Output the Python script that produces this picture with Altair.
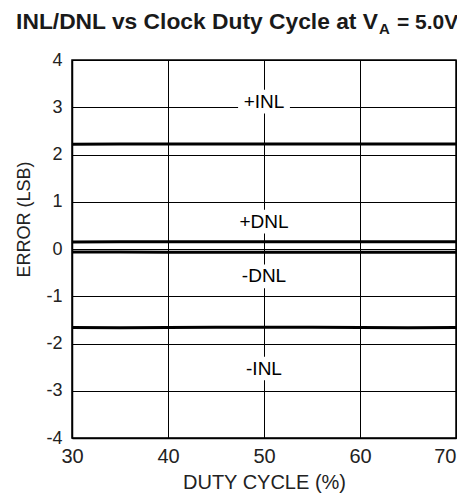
import altair as alt
import pandas as pd

# ---- data ----
duty = [30, 35, 40, 45, 50, 55, 60, 65, 70]
pos_inl = [2.215, 2.22, 2.22, 2.22, 2.22, 2.22, 2.22, 2.22, 2.22]
pos_dnl = [0.15, 0.155, 0.155, 0.155, 0.155, 0.155, 0.155, 0.155, 0.155]
neg_dnl = [-0.065, -0.065, -0.07, -0.07, -0.07, -0.07, -0.07, -0.07, -0.07]
neg_inl = [-1.66, -1.665, -1.66, -1.655, -1.655, -1.655, -1.66, -1.665, -1.66]

label_text = ["+INL", "+DNL", "-DNL", "-INL"]
label_x = [50, 50, 50, 50]
label_y = [3.12, 0.58, -0.58, -2.53]

x_ticks = [30, 40, 50, 60, 70]
y_ticks = [-4, -3, -2, -1, 0, 1, 2, 3, 4]

title_parts = ["INL/DNL vs Clock Duty Cycle at V", "A", "= 5.0V"]

FONT = "Liberation Sans"

rows = []
for name, vals in [("+INL", pos_inl), ("+DNL", pos_dnl), ("-DNL", neg_dnl), ("-INL", neg_inl)]:
    for d, v in zip(duty, vals):
        rows.append({"series": name, "duty": d, "error": v})
df_lines = pd.DataFrame(rows)
df_labels = pd.DataFrame({"label": label_text, "x": label_x, "y": label_y})

xscale = alt.Scale(domain=[30, 70], nice=False, zero=False)
yscale = alt.Scale(domain=[-4, 4], nice=False, zero=False)

xaxis = alt.Axis(values=x_ticks, title="DUTY CYCLE (%)", labelFontSize=20,
                 labelPadding=8, labelFlush=False, labelExpr="datum.value + ''",
                 labelAlign=alt.expr("datum.value == 70 ? 'right' : 'center'"),
                 titleFontSize=20, titleBaseline="alphabetic",
                 titleY=50, titleX=192, titleAlign="center")
yaxis = alt.Axis(values=y_ticks, title="ERROR (LSB)", labelFontSize=18,
                 labelPadding=10, labelFlush=False, labelExpr="datum.value + ''",
                 titleFontSize=18, titleAngle=270,
                 titleX=-48, titleY=159, titleAlign="center",
                 titleBaseline="middle")

lines = alt.Chart(df_lines).mark_line(color="black", strokeWidth=3).encode(
    x=alt.X("duty:Q", scale=xscale, axis=xaxis, title="DUTY CYCLE (%)"),
    y=alt.Y("error:Q", scale=yscale, axis=yaxis, title="ERROR (LSB)"),
    detail="series:N",
)

boxes = alt.Chart(df_labels).transform_calculate(
    x1="datum.x - 2.7", x2="datum.x + 2.7", y1="datum.y - 0.25", y2="datum.y + 0.25"
).mark_rect(fill="white").encode(
    x=alt.X("x1:Q", scale=xscale, axis=xaxis, title="DUTY CYCLE (%)"),
    x2="x2:Q",
    y=alt.Y("y1:Q", scale=yscale, axis=yaxis, title="ERROR (LSB)"),
    y2="y2:Q",
)

texts = alt.Chart(df_labels).mark_text(
    font=FONT, fontSize=19, color="black", baseline="middle", align="center"
).encode(
    x=alt.X("x:Q", scale=xscale, axis=xaxis, title="DUTY CYCLE (%)"),
    y=alt.Y("y:Q", scale=yscale, axis=yaxis, title="ERROR (LSB)"),
    text="label:N",
)

t1 = alt.Chart(pd.DataFrame({"t": [title_parts[0]]})).mark_text(
    font=FONT, fontSize=22.8, fontWeight="bold", color="#1a1a1a",
    align="right", baseline="alphabetic"
).encode(x=alt.value(306), y=alt.value(-31), text="t:N")
t2 = alt.Chart(pd.DataFrame({"t": [title_parts[1]]})).mark_text(
    font=FONT, fontSize=15, fontWeight="bold", color="#1a1a1a",
    align="left", baseline="alphabetic"
).encode(x=alt.value(307), y=alt.value(-26), text="t:N")
t3 = alt.Chart(pd.DataFrame({"t": [title_parts[2]]})).mark_text(
    font=FONT, fontSize=21, fontWeight="bold", color="#1a1a1a",
    align="left", baseline="alphabetic"
).encode(x=alt.value(325), y=alt.value(-31), text="t:N")

chart = alt.layer(lines, boxes, texts, t1, t2, t3).properties(
    width=384, height=378,
    padding={"left": 64, "top": 52, "right": 1, "bottom": 55},
    autosize=alt.AutoSizeParams(type="none"),
).configure_view(
    stroke="black", strokeWidth=1.5
).configure_axis(
    grid=True, gridColor="black", gridOpacity=1, gridWidth=1,
    domainColor="black", domainWidth=1.5, ticks=False, tickSize=0,
    labelFont=FONT, titleFont=FONT, titleFontWeight="normal",
    labelColor="#222", titleColor="#222",
)

chart.save("out.html", embed_options={"renderer": "svg", "actions": False})
